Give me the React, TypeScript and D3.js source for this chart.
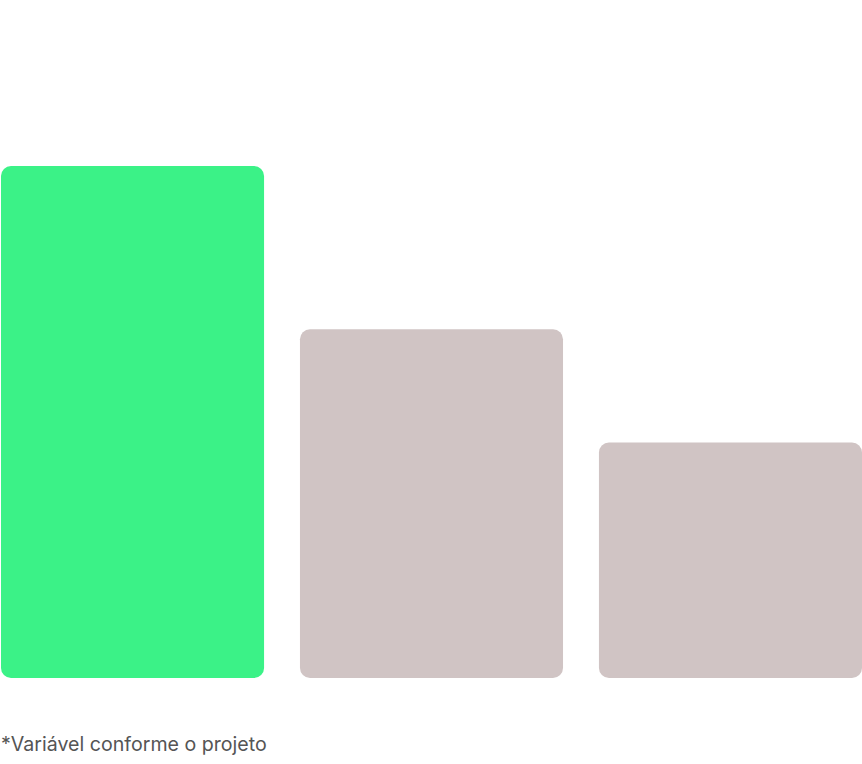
import React from "react";
import * as d3 from "d3";

const categories = ["A", "B", "C"];
const values = [100, 68.1, 46];
const colors = ["#3BF287", "#D0C4C4", "#D0C4C4"];
const footnote = "*Variável conforme o projeto";

const W = 862;
const H = 764;

export default function App() {
  const x = d3
    .scaleBand<string>()
    .domain(categories)
    .range([1, 862])
    .paddingInner(34.5 / 287.25)
    .paddingOuter(0);
  const y = d3.scaleLinear().domain([0, 100]).range([678, 166]);

  return (
    <div style={{ position: "absolute", left: 0, top: 0, width: W, height: H }}>
      <svg width={W} height={H} style={{ display: "block" }}>
        {categories.map((c, i) => (
          <rect
            key={c}
            x={x(c)}
            y={y(values[i])}
            width={x.bandwidth()}
            height={y(0) - y(values[i])}
            rx={10}
            ry={10}
            fill={colors[i]}
          />
        ))}
        <text
          x={1}
          y={751}
          fontFamily="Inter, 'Noto Sans', sans-serif"
          fontSize={19.6}
          fill="#555555"
        >
          {footnote}
        </text>
      </svg>
    </div>
  );
}
